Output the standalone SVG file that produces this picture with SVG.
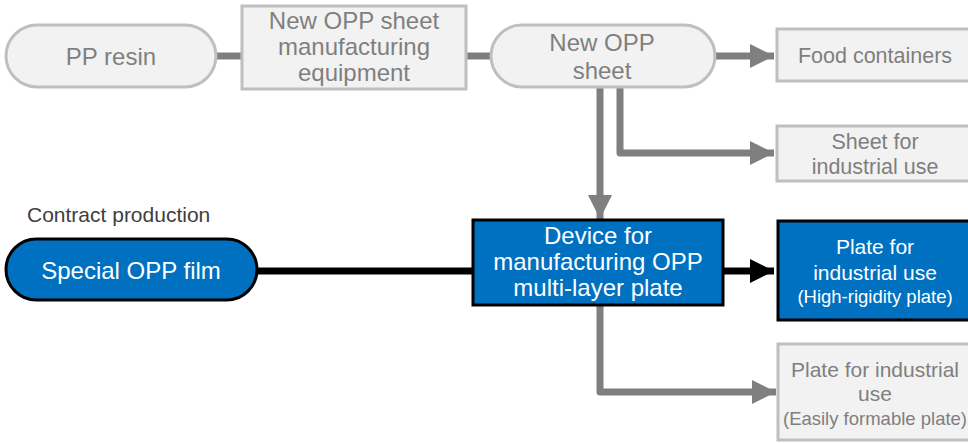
<svg xmlns="http://www.w3.org/2000/svg" width="968" height="443" viewBox="0 0 968 443">
  <defs>
    <style>
      .grey-node { fill: #f2f2f2; stroke: #bfbfbf; stroke-width: 3; }
      .blue-node { fill: #0070c0; stroke: #000000; stroke-width: 3; }
      .grey-text { fill: #7f7f7f; font-family: "Liberation Sans", Arial, sans-serif; text-anchor: middle; }
      .white-text { fill: #ffffff; font-family: "Liberation Sans", Arial, sans-serif; text-anchor: middle; }
      .grey-link { fill: none; stroke: #7f7f7f; stroke-width: 7; stroke-linejoin: round; }
      .black-link { fill: none; stroke: #000000; stroke-width: 7; }
      .note { fill: #404040; font-family: "Liberation Sans", Arial, sans-serif; font-size: 21px; }
    </style>
    <marker id="arrow-grey" markerUnits="userSpaceOnUse" markerWidth="26" markerHeight="26" refX="24" refY="13" orient="auto">
      <path d="M0,1 L24,13 L0,25 Z" fill="#7f7f7f"/>
    </marker>
    <marker id="arrow-black" markerUnits="userSpaceOnUse" markerWidth="26" markerHeight="26" refX="24" refY="13" orient="auto">
      <path d="M0,1 L24,13 L0,25 Z" fill="#000000"/>
    </marker>
  </defs>

  <!-- connectors -->
  <g id="connectors">
    <line class="grey-link" x1="216" y1="56" x2="242" y2="56"/>
    <line class="grey-link" x1="466" y1="56" x2="491" y2="56"/>
    <line class="grey-link" x1="715" y1="56" x2="774" y2="56" marker-end="url(#arrow-grey)"/>
    <path class="grey-link" d="M620,88 V153 H774" marker-end="url(#arrow-grey)"/>
    <line class="grey-link" x1="600" y1="88" x2="600" y2="219" marker-end="url(#arrow-grey)"/>
    <line class="black-link" x1="257" y1="271" x2="473" y2="271"/>
    <line class="black-link" x1="723" y1="271" x2="774" y2="271" marker-end="url(#arrow-black)"/>
    <path class="grey-link" d="M600,305 V392 H776" marker-end="url(#arrow-grey)"/>
  </g>

  <g id="pp-resin">
    <rect class="grey-node" x="6" y="25" width="210" height="62" rx="31" ry="31"/>
    <text class="grey-text" x="111" y="65" font-size="24">PP resin</text>
  </g>

  <g id="sheet-equipment">
    <rect class="grey-node" x="242" y="6" width="224" height="83"/>
    <text class="grey-text" x="354" y="29" font-size="24">New OPP sheet</text>
    <text class="grey-text" x="354" y="55" font-size="24">manufacturing</text>
    <text class="grey-text" x="354" y="81" font-size="24">equipment</text>
  </g>

  <g id="opp-sheet">
    <rect class="grey-node" x="491" y="25" width="224" height="62" rx="31" ry="31"/>
    <text class="grey-text" x="602" y="51" font-size="24">New OPP</text>
    <text class="grey-text" x="602" y="79" font-size="24">sheet</text>
  </g>

  <g id="food-containers">
    <rect class="grey-node" x="777" y="29" width="200" height="52"/>
    <text class="grey-text" x="875" y="63" font-size="21.5">Food containers</text>
  </g>

  <g id="industrial-sheet">
    <rect class="grey-node" x="777" y="126" width="200" height="55"/>
    <text class="grey-text" x="875" y="149" font-size="21.5">Sheet for</text>
    <text class="grey-text" x="875" y="174" font-size="21.5">industrial use</text>
  </g>

  <g id="contract-production">
    <text class="note" x="27" y="222">Contract production</text>
  </g>

  <g id="special-film">
    <rect class="blue-node" x="6" y="239" width="251" height="61" rx="30.5" ry="30.5"/>
    <text class="white-text" x="131" y="279" font-size="24">Special OPP film</text>
  </g>

  <g id="multilayer-device">
    <rect class="blue-node" x="473" y="220" width="250" height="85"/>
    <text class="white-text" x="598" y="244" font-size="24">Device for</text>
    <text class="white-text" x="598" y="270" font-size="24">manufacturing OPP</text>
    <text class="white-text" x="598" y="296" font-size="24">multi-layer plate</text>
  </g>

  <g id="rigid-plate">
    <rect class="blue-node" x="778" y="221" width="200" height="99"/>
    <text class="white-text" x="875" y="254" font-size="21">Plate for</text>
    <text class="white-text" x="875" y="280" font-size="21">industrial use</text>
    <text class="white-text" x="875" y="303" font-size="18.5">(High-rigidity plate)</text>
  </g>

  <g id="formable-plate">
    <rect class="grey-node" x="778" y="344" width="200" height="96"/>
    <text class="grey-text" x="875" y="377" font-size="21">Plate for industrial</text>
    <text class="grey-text" x="875" y="401" font-size="21">use</text>
    <text class="grey-text" x="875" y="425" font-size="18.5">(Easily formable plate)</text>
  </g>
</svg>
